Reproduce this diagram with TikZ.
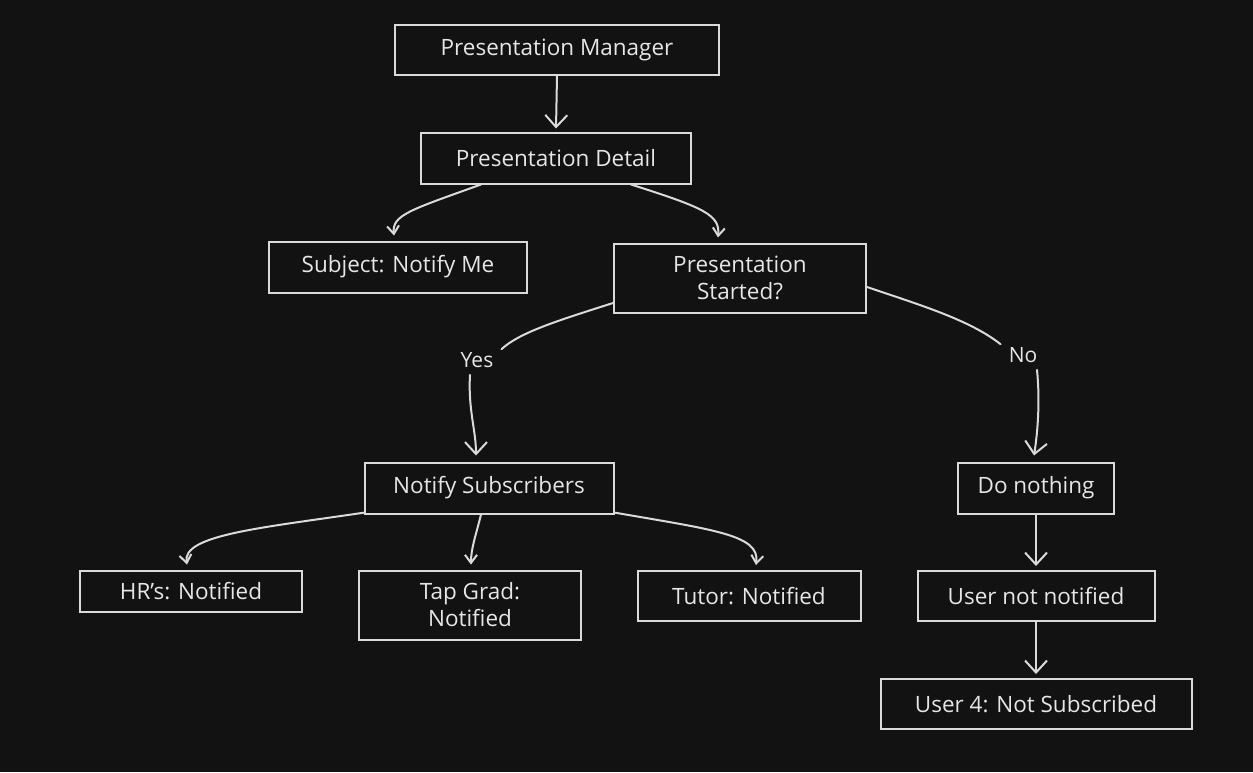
\documentclass[tikz,border=0pt]{standalone}
\usepackage{fontspec}
\setmainfont{Open Sans}
\usetikzlibrary{arrows.meta}
\definecolor{bg}{HTML}{121212}
\definecolor{ink}{HTML}{DADADA}
\definecolor{txt}{HTML}{E6E6E6}
\tikzset{
  box/.style={draw=ink, line width=2pt, inner sep=0pt, text=txt, align=center,
    font=\fontsize{22.5}{27}\selectfont},
  lbl/.style={text=txt, inner sep=5pt, font=\fontsize{21}{24}\selectfont},
  conn/.style={draw=ink, line width=2pt, line cap=round},
  big/.style={conn, -{Straight Barb[length=12pt,width=22pt,line width=2pt]}},
  small/.style={conn, -{Straight Barb[length=8pt,width=12pt,line width=2pt]}},
}
\begin{document}
\begin{tikzpicture}[x=1pt,y=-1pt]
\fill[bg] (0,0) rectangle (1253,772);
\useasboundingbox (0,0) rectangle (1253,772);

\node[box, minimum width=324, minimum height=50] (pm) at (557,50) {Presentation Manager};
\node[box, minimum width=270, minimum height=51] (pd) at (556,158) {Presentation Detail};
\node[box, minimum width=258, minimum height=51] (subj) at (398,267) {Subject: Notify Me};
\node[box, minimum width=252, minimum height=69] (ps) at (740,278) {Presentation\\Started?};
\node[box, minimum width=249, minimum height=51] (ns) at (489,488) {Notify Subscribers};
\node[box, minimum width=156, minimum height=51] (dn) at (1036,488) {Do nothing};
\node[box, minimum width=222, minimum height=41] (hr) at (191,591) {HR's: Notified};
\node[box, minimum width=222, minimum height=69] (tg) at (470,605) {Tap Grad:\\Notified};
\node[box, minimum width=223, minimum height=50] (tu) at (749,596) {Tutor: Notified};
\node[box, minimum width=237, minimum height=50] (un) at (1036,596) {User not notified};
\node[box, minimum width=311, minimum height=50] (u4) at (1036,704) {User 4: Not Subscribed};

\node[lbl] (yes) at (477,360) {Yes};
\node[lbl] (no) at (1023,355) {No};

% connectors
\draw[big] (pm.south) -- ([yshift=3]pd.north);
\draw[small] ([xshift=-75]pd.south) .. controls (410,210) and (392,215) .. ([xshift=-4,yshift=5]subj.north);
\draw[small] ([xshift=75]pd.south) .. controls (705,208) and (720,215) .. ([xshift=-22,yshift=5]ps.north);
\draw[conn] ([yshift=-25]ps.west) .. controls (560,320) and (520,332) .. ([xshift=3,yshift=-2]yes.north east);
\draw[big] ([xshift=-7,yshift=-2]yes.south) .. controls (468,410) and (476,430) .. ([xshift=-13,yshift=6]ns.north);
\draw[conn] ([yshift=-9]ps.east) .. controls (920,305) and (970,320) .. ([xshift=-3,yshift=-2]no.north west);
\draw[big] ([xshift=14,yshift=-2]no.south) .. controls (1040,400) and (1038,430) .. ([xshift=-2,yshift=6]dn.north);
\draw[big] (dn.south) -- ([yshift=4]un.north);
\draw[big] (un.south) -- ([yshift=4]u4.north);
\draw[small] ([xshift=-124,yshift=2]ns.south) .. controls (260,528) and (182,535) .. ([xshift=-4,yshift=5]hr.north);
\draw[small] ([xshift=-8]ns.south) .. controls (476,535) and (471,548) .. ([xshift=1,yshift=5]tg.north);
\draw[small] ([xshift=125,yshift=2]ns.south) .. controls (715,530) and (760,535) .. ([xshift=7,yshift=5]tu.north);
\end{tikzpicture}
\end{document}
